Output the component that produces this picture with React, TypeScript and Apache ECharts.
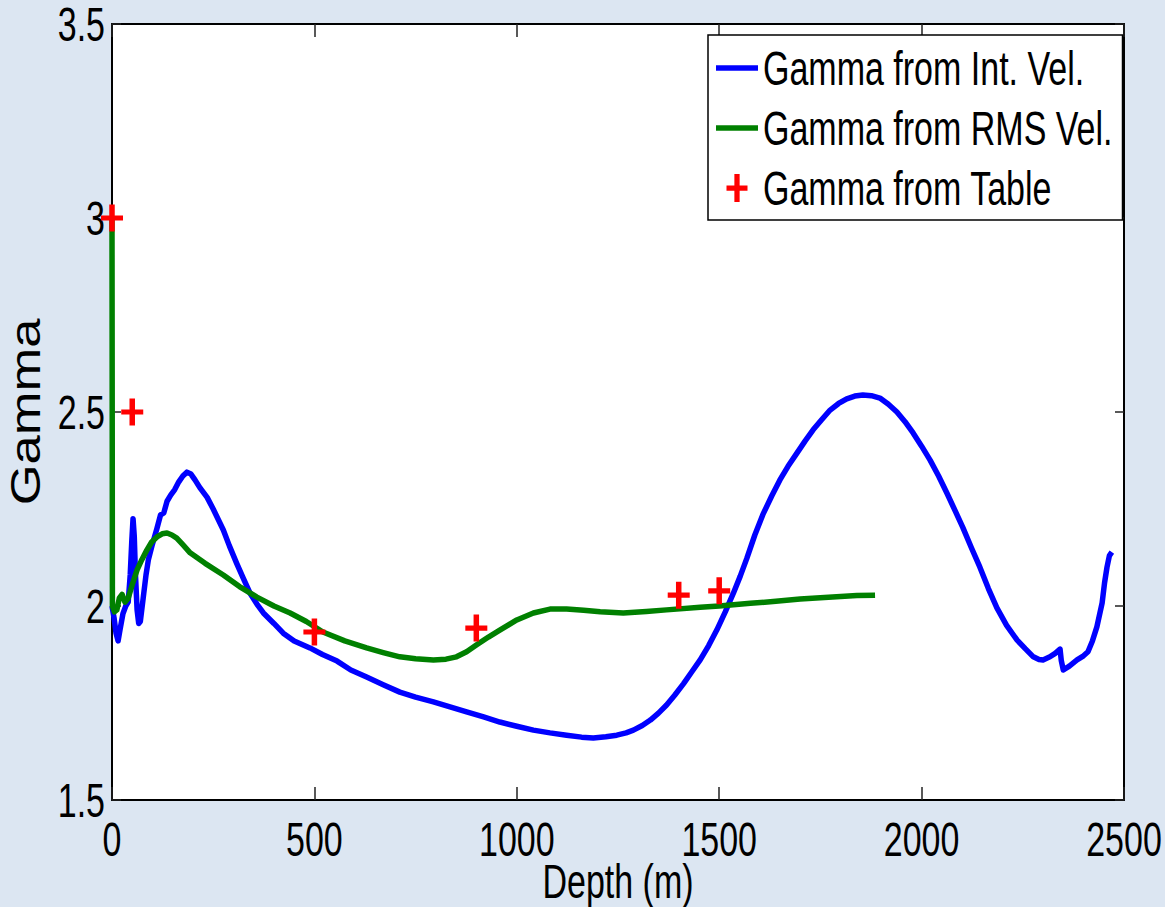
import { useEffect, useRef } from 'react';
import * as echarts from 'echarts';

// Gamma derived from interval velocity, sampled along depth (m)
const depthInt = [
  0, 5, 10, 15, 20, 27, 34, 40, 45, 49, 52, 55, 58, 62, 66, 70, 77, 84, 90, 100,
  111, 120, 128, 136, 145, 155, 165, 175, 185, 195, 205, 217, 235, 250, 275, 290,
  308, 325, 341, 358, 374, 400, 423, 450, 489, 520, 556, 590, 629, 670, 711, 750,
  794, 835, 876, 918, 958, 1000, 1041, 1082, 1123, 1160, 1189, 1220, 1247, 1270,
  1288, 1310, 1330, 1350, 1370, 1390, 1412, 1432, 1453, 1474, 1494, 1515, 1535,
  1552, 1568, 1588, 1608, 1630, 1650, 1670, 1692, 1712, 1732, 1753, 1774, 1795,
  1815, 1835, 1855, 1876, 1897, 1918, 1939, 1959, 1979, 2000, 2021, 2042, 2063,
  2083, 2102, 2123, 2144, 2165, 2186, 2210, 2236, 2256, 2276, 2290, 2300, 2317,
  2330, 2342, 2345, 2350, 2365, 2384, 2398, 2411, 2422, 2433, 2446, 2452, 2458,
  2464, 2470,
];
const gammaInt = [
  2.0, 1.97, 1.93, 1.91, 1.94, 1.98, 2.0, 2.01, 2.08, 2.17, 2.225, 2.18, 2.08, 1.99,
  1.955, 1.96, 2.02, 2.08, 2.12, 2.16, 2.2, 2.235, 2.24, 2.27, 2.286, 2.3, 2.32,
  2.335, 2.345, 2.34, 2.325, 2.305, 2.28, 2.25, 2.196, 2.155, 2.11, 2.07, 2.033,
  2.005, 1.982, 1.955, 1.93, 1.91, 1.892, 1.875, 1.858, 1.835, 1.817, 1.797, 1.778,
  1.765, 1.753, 1.74, 1.727, 1.714, 1.701, 1.69, 1.68, 1.673, 1.667, 1.662, 1.66,
  1.663, 1.667, 1.673, 1.68, 1.692, 1.706, 1.724, 1.745, 1.77, 1.8, 1.83, 1.861,
  1.898, 1.938, 1.985, 2.033, 2.077, 2.122, 2.183, 2.236, 2.284, 2.325, 2.36, 2.394,
  2.425, 2.454, 2.48, 2.505, 2.522, 2.534, 2.541, 2.544, 2.542, 2.536, 2.52, 2.5,
  2.475, 2.446, 2.412, 2.376, 2.335, 2.29, 2.245, 2.202, 2.15, 2.1, 2.045, 1.995,
  1.95, 1.912, 1.89, 1.869, 1.862, 1.861, 1.869, 1.878, 1.889, 1.86, 1.835, 1.845,
  1.861, 1.87, 1.882, 1.91, 1.946, 2.008, 2.06, 2.1, 2.13, 2.139,
];

// Gamma derived from RMS velocity
const depthRms = [
  0, 1, 6, 12, 18, 25, 32, 40, 50, 62, 74, 86, 98, 111, 124, 136, 148, 160, 175,
  193, 230, 275, 315, 358, 400, 440, 480, 521, 575, 629, 670, 711, 750, 794, 825,
  851, 876, 901, 930, 958, 1000, 1041, 1082, 1123, 1165, 1206, 1263, 1320, 1370,
  1453, 1500, 1577, 1640, 1700, 1780, 1840, 1885,
];
const gammaRms = [
  3.0, 2.0, 1.985, 1.99, 2.02, 2.03, 2.01, 2.02, 2.055, 2.093, 2.12, 2.144, 2.165,
  2.178, 2.186, 2.188, 2.183, 2.175, 2.158, 2.137, 2.11, 2.08, 2.05, 2.023, 2.0,
  1.982, 1.96, 1.933, 1.91, 1.892, 1.88, 1.869, 1.864, 1.861, 1.863, 1.869, 1.882,
  1.9, 1.92, 1.938, 1.964, 1.982, 1.992, 1.992, 1.989, 1.985, 1.982, 1.986, 1.99,
  1.997, 2.0, 2.007, 2.012, 2.018, 2.023, 2.027, 2.028,
];

// Tabulated gamma values
const depthTable = [0, 50, 500, 900, 1400, 1500];
const gammaTable = [3.0, 2.5, 1.933, 1.943, 2.028, 2.039];

const seriesNames = ['Gamma from Int. Vel.', 'Gamma from RMS Vel.', 'Gamma from Table'];
const depthRange = [0, 2500];
const gammaRange = [1.5, 3.5];

const FONT = '"Liberation Sans", Arial, Helvetica, sans-serif';
const PLUS = 'path://M4.5,0 H7.5 V6.5 H12 V9.5 H7.5 V16 H4.5 V9.5 H0 V6.5 H4.5 Z';
const BAR = 'path://M0,0 H42 V5.5 H0 Z';

const pairs = (xs: number[], ys: number[]) => xs.map((x, i) => [x, ys[i]]);

// Stretch the chart's text glyphs (tall, condensed lettering) about each text's anchor point.
function stretchTexts(root: HTMLElement) {
  root.querySelectorAll('svg text').forEach((t) => {
    const rotated = t.textContent === 'Gamma';
    const sx = rotated ? 1.25 : 1;
    const sy = rotated ? 1 : 1.42;
    const x = parseFloat(t.getAttribute('x') || '0') || 0;
    const y = parseFloat(t.getAttribute('y') || '0') || 0;
    const suffix = ` translate(${x} ${y}) scale(${sx} ${sy}) translate(${-x} ${-y})`;
    const cur = t.getAttribute('transform') || '';
    if (!cur.endsWith(suffix)) t.setAttribute('transform', cur + suffix);
  });
}

export default function App() {
  const ref = useRef<HTMLDivElement>(null);

  useEffect(() => {
    const el = ref.current;
    if (!el) return;
    const chart = echarts.init(el, null, { renderer: 'svg' });

    const axisLine = { show: true, onZero: false, lineStyle: { color: '#000', width: 2 } };
    const label = { fontSize: 34, fontFamily: FONT, color: '#000' };
    const plain = (v: number) => String(v);
    const xTick = { show: true, inside: true, length: 13, lineStyle: { color: '#222', width: 1.5 } };
    const yTick = { show: true, inside: true, length: 9, lineStyle: { color: '#222', width: 1.5 } };

    chart.on('finished', () => stretchTexts(el));

    chart.setOption({
      animation: false,
      backgroundColor: '#dce6f2',
      grid: {
        left: 112, right: 41, top: 24, bottom: 107,
        containLabel: false, outerBoundsMode: 'none',
        show: true, backgroundColor: '#ffffff', borderWidth: 0,
      },
      xAxis: [
        {
          type: 'value', min: depthRange[0], max: depthRange[1], interval: 500,
          position: 'bottom',
          name: 'Depth (m)', nameLocation: 'middle', nameGap: 64,
          nameTextStyle: { ...label },
          axisLine, axisTick: xTick,
          axisLabel: { ...label, margin: 22, formatter: plain },
          splitLine: { show: false },
        },
        {
          type: 'value', min: depthRange[0], max: depthRange[1], interval: 500,
          position: 'top',
          axisLine, axisTick: xTick,
          axisLabel: { show: false },
          splitLine: { show: false },
        },
      ],
      yAxis: [
        {
          type: 'value', min: gammaRange[0], max: gammaRange[1], interval: 0.5,
          position: 'left',
          name: 'Gamma', nameLocation: 'middle', nameGap: 64, nameRotate: 90,
          nameTextStyle: { fontSize: 42, fontFamily: FONT, color: '#000' },
          axisLine, axisTick: yTick,
          axisLabel: { ...label, margin: 7, formatter: plain },
          splitLine: { show: false },
        },
        {
          type: 'value', min: gammaRange[0], max: gammaRange[1], interval: 0.5,
          position: 'right',
          axisLine, axisTick: yTick,
          axisLabel: { show: false },
          splitLine: { show: false },
        },
      ],
      legend: {
        orient: 'vertical',
        left: 708, top: 35,
        padding: [13, 10, 12, 8],
        itemGap: 20,
        itemWidth: 42, itemHeight: 28,
        symbolKeepAspect: true,
        selectedMode: false,
        backgroundColor: '#ffffff',
        borderColor: '#000', borderWidth: 1.5, borderRadius: 0,
        textStyle: { ...label, lineHeight: 40 },
        data: [
          { name: seriesNames[0], icon: BAR },
          { name: seriesNames[1], icon: BAR },
          { name: seriesNames[2], icon: PLUS },
        ],
      },
      series: [
        {
          name: seriesNames[0], type: 'line', data: pairs(depthInt, gammaInt),
          symbol: 'none', silent: true,
          lineStyle: { color: '#0000ff', width: 5.5, join: 'round' },
          itemStyle: { color: '#0000ff' }, z: 2,
        },
        {
          name: seriesNames[1], type: 'line', data: pairs(depthRms, gammaRms),
          symbol: 'none', silent: true,
          lineStyle: { color: '#008000', width: 5.5, join: 'round' },
          itemStyle: { color: '#008000' }, z: 3,
        },
        {
          name: seriesNames[2], type: 'scatter', data: pairs(depthTable, gammaTable),
          symbol: PLUS, symbolSize: [22, 27], silent: true,
          itemStyle: { color: '#ff0000', opacity: 1 }, z: 4,
        },
      ],
    });
    stretchTexts(el);

    return () => chart.dispose();
  }, []);

  return (
    <div
      ref={ref}
      style={{ position: 'absolute', left: 0, top: 0, width: 1165, height: 907 }}
    />
  );
}
